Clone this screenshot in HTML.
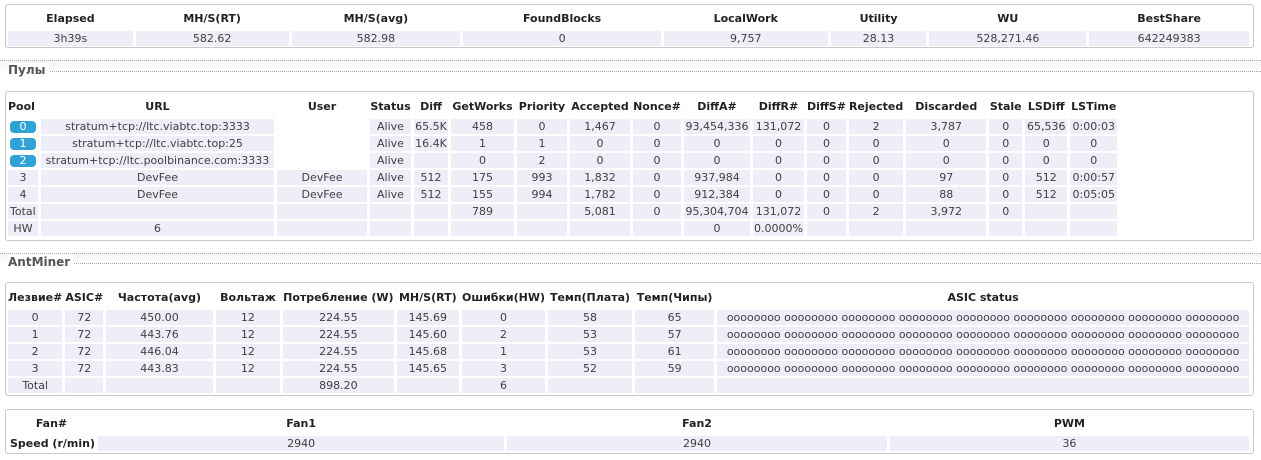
<!DOCTYPE html>
<html><head><meta charset="utf-8"><style>
body{margin:0;width:1261px;height:460px;background:#fff;font-family:Tahoma,"DejaVu Sans","Liberation Sans",sans-serif;font-size:11px;color:#404040;position:relative;overflow:hidden}
.box{position:absolute;left:5px;width:1247px;border:1px solid #c8c8c8;border-radius:3px;background:#fff}
table{border-collapse:separate;border-spacing:3px 2px;table-layout:fixed;position:absolute;left:-1px;top:0}
td,th{padding:0;text-align:center;white-space:nowrap;overflow:hidden;height:15px;line-height:15px}
th{font-weight:bold;color:#222;height:20px;line-height:20px}
td{background:#eeeef9}
td.e{background:transparent}
.sec{position:absolute;left:0;width:1261px;height:12px;border-top:1px dotted #aaa;background:linear-gradient(#f4f4f4,#fff)}
.title{position:absolute;left:8px;font-weight:bold;font-size:12px;color:#555;background:#fff;padding-right:3px}
.tline{position:absolute;left:50px;right:0;border-top:1px dotted #aaa}
.b{display:inline-block;background:#2fa3d6;color:#fff;border-radius:4px;width:26px;height:12px;line-height:12px}
td.l{text-align:left;padding-left:2px}
</style></head><body>

<div class="box" style="top:4px;height:42px">
<table style="top:2px">
<colgroup><col style="width:125px"><col style="width:153px"><col style="width:169px"><col style="width:198px"><col style="width:164px"><col style="width:96px"><col style="width:157px"><col style="width:160px"></colgroup>
<tr><th>Elapsed</th><th>MH/S(RT)</th><th>MH/S(avg)</th><th>FoundBlocks</th><th>LocalWork</th><th>Utility</th><th>WU</th><th>BestShare</th></tr>
<tr><td>3h39s</td><td>582.62</td><td>582.98</td><td>0</td><td>9,757</td><td>28.13</td><td>528,271.46</td><td>642249383</td></tr>
</table></div>

<div class="sec" style="top:60px"></div>
<div class="tline" style="top:71px"></div>
<div class="title" style="top:63px">Пулы</div>

<div class="box" style="top:91px;height:148px">
<table style="top:3px">
<colgroup><col style="width:30px"><col style="width:233px"><col style="width:90px"><col style="width:41px"><col style="width:34px"><col style="width:63px"><col style="width:50px"><col style="width:60px"><col style="width:48px"><col style="width:66px"><col style="width:51px"><col style="width:34px"><col style="width:50px"><col style="width:80px"><col style="width:33px"><col style="width:42px"><col style="width:47px"></colgroup>
<tr><th style="text-align:left">Pool</th><th>URL</th><th>User</th><th>Status</th><th>Diff</th><th>GetWorks</th><th>Priority</th><th>Accepted</th><th>Nonce#</th><th>DiffA#</th><th>DiffR#</th><th>DiffS#</th><th>Rejected</th><th>Discarded</th><th>Stale</th><th>LSDiff</th><th>LSTime</th></tr>
<tr><td class="e"><span class="b">0</span></td><td>stratum+tcp://ltc.viabtc.top:3333</td><td class="e"></td><td>Alive</td><td>65.5K</td><td>458</td><td>0</td><td>1,467</td><td>0</td><td>93,454,336</td><td>131,072</td><td>0</td><td>2</td><td>3,787</td><td>0</td><td>65,536</td><td>0:00:03</td></tr>
<tr><td class="e"><span class="b">1</span></td><td>stratum+tcp://ltc.viabtc.top:25</td><td class="e"></td><td>Alive</td><td>16.4K</td><td>1</td><td>1</td><td>0</td><td>0</td><td>0</td><td>0</td><td>0</td><td>0</td><td>0</td><td>0</td><td>0</td><td>0</td></tr>
<tr><td class="e"><span class="b">2</span></td><td>stratum+tcp://ltc.poolbinance.com:3333</td><td class="e"></td><td>Alive</td><td></td><td>0</td><td>2</td><td>0</td><td>0</td><td>0</td><td>0</td><td>0</td><td>0</td><td>0</td><td>0</td><td>0</td><td>0</td></tr>
<tr><td>3</td><td>DevFee</td><td>DevFee</td><td>Alive</td><td>512</td><td>175</td><td>993</td><td>1,832</td><td>0</td><td>937,984</td><td>0</td><td>0</td><td>0</td><td>97</td><td>0</td><td>512</td><td>0:00:57</td></tr>
<tr><td>4</td><td>DevFee</td><td>DevFee</td><td>Alive</td><td>512</td><td>155</td><td>994</td><td>1,782</td><td>0</td><td>912,384</td><td>0</td><td>0</td><td>0</td><td>88</td><td>0</td><td>512</td><td>0:05:05</td></tr>
<tr><td class="l">Total</td><td></td><td></td><td></td><td></td><td>789</td><td></td><td>5,081</td><td>0</td><td>95,304,704</td><td>131,072</td><td>0</td><td>2</td><td>3,972</td><td>0</td><td></td><td></td></tr>
<tr><td>HW</td><td>6</td><td></td><td></td><td></td><td></td><td></td><td></td><td></td><td>0</td><td>0.0000%</td><td></td><td></td><td></td><td></td><td></td><td></td></tr>
</table></div>

<div class="sec" style="top:253px"></div>
<div class="tline" style="top:263px;left:70px"></div>
<div class="title" style="top:255px">AntMiner</div>

<div class="box" style="top:282px;height:112px">
<table style="top:3px">
<colgroup><col style="width:39px"><col style="width:28px"><col style="width:119px"><col style="width:69px"><col style="width:105px"><col style="width:65px"><col style="width:82px"><col style="width:86px"><col style="width:81px"><col style="width:542px"></colgroup>
<tr><th>Лезвие#</th><th>ASIC#</th><th>Частота(avg)</th><th>Вольтаж</th><th>Потребление (W)</th><th>MH/S(RT)</th><th>Ошибки(HW)</th><th>Темп(Плата)</th><th>Темп(Чипы)</th><th>ASIC status</th></tr>
<tr><td>0</td><td>72</td><td>450.00</td><td>12</td><td>224.55</td><td>145.69</td><td>0</td><td>58</td><td>65</td><td>oooooooo oooooooo oooooooo oooooooo oooooooo oooooooo oooooooo oooooooo oooooooo</td></tr>
<tr><td>1</td><td>72</td><td>443.76</td><td>12</td><td>224.55</td><td>145.60</td><td>2</td><td>53</td><td>57</td><td>oooooooo oooooooo oooooooo oooooooo oooooooo oooooooo oooooooo oooooooo oooooooo</td></tr>
<tr><td>2</td><td>72</td><td>446.04</td><td>12</td><td>224.55</td><td>145.68</td><td>1</td><td>53</td><td>61</td><td>oooooooo oooooooo oooooooo oooooooo oooooooo oooooooo oooooooo oooooooo oooooooo</td></tr>
<tr><td>3</td><td>72</td><td>443.83</td><td>12</td><td>224.55</td><td>145.65</td><td>3</td><td>52</td><td>59</td><td>oooooooo oooooooo oooooooo oooooooo oooooooo oooooooo oooooooo oooooooo oooooooo</td></tr>
<tr><td>Total</td><td></td><td></td><td></td><td>898.20</td><td></td><td>6</td><td></td><td></td><td></td></tr>
</table></div>

<div class="box" style="top:409px;height:43px">
<table style="top:2px">
<colgroup><col style="width:70px"><col style="width:413px"><col style="width:386px"><col style="width:365px"></colgroup>
<tr><th>Fan#</th><th>Fan1</th><th>Fan2</th><th>PWM</th></tr>
<tr><td class="e" style="font-weight:bold;color:#222;text-align:left;padding-left:2px">Speed (r/min)</td><td>2940</td><td>2940</td><td>36</td></tr>
</table></div>
</body></html>
